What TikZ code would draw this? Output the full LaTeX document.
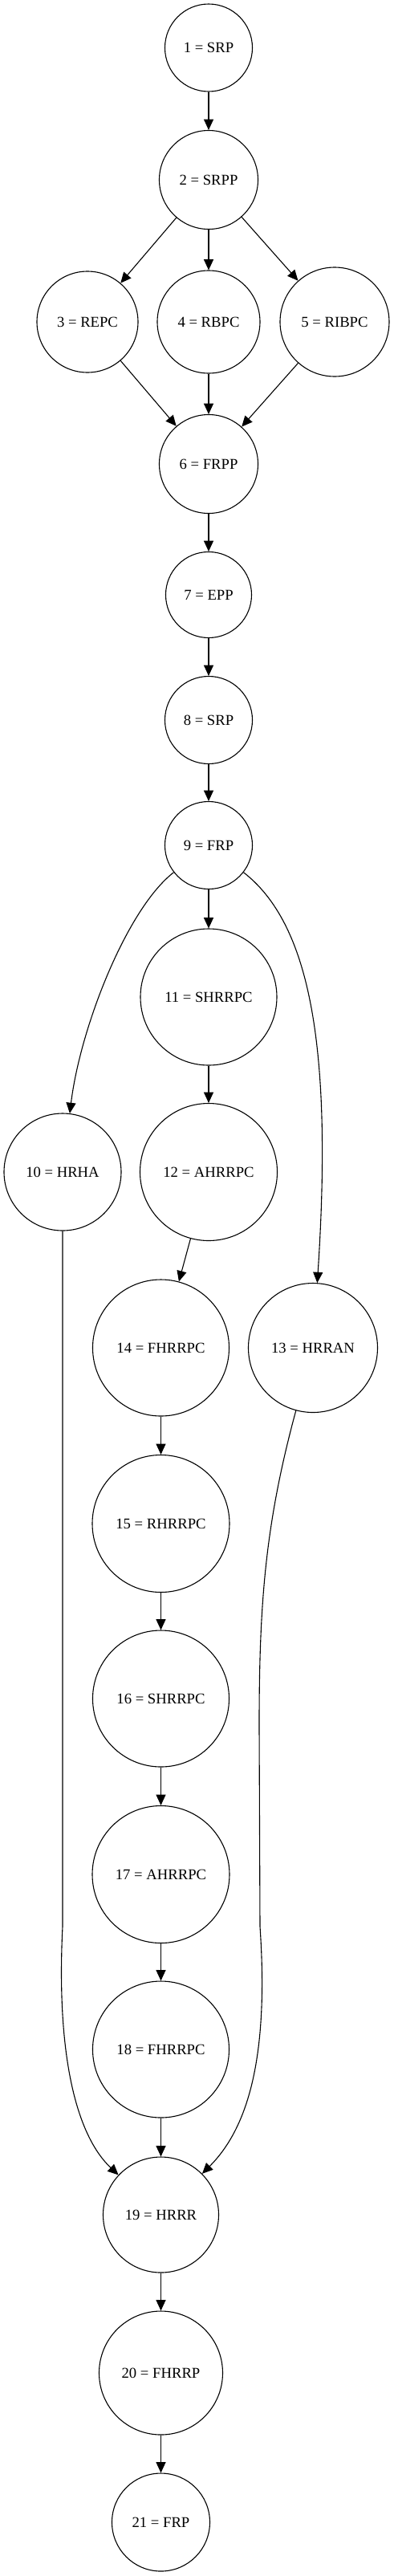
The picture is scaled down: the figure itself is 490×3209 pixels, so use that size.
\documentclass[tikz,border=0pt]{standalone}
\usepackage{fontspec}
\setmainfont{Liberation Serif}
\usepackage{tikz}
\usetikzlibrary{arrows.meta}
\tikzset{
  state/.style={draw, circle, inner sep=0pt, line width=1.1pt,
    font=\fontsize{18.67}{22}\selectfont},
  edge/.style={line width=1.1pt, -{Triangle[length=13.3pt,width=12pt]}}
}

\begin{document}
\begin{tikzpicture}[x=1pt, y=-1pt]
		%%%%% START %%%%%
		\useasboundingbox (0,0) rectangle (490,3209);
		
		\node[state, minimum size=109pt] (n1) at (260, 59.5) {1 = SRP};
		\node[state, minimum size=123pt] (n2) at (260, 224) {2 = SRPP};
		
		\node[state, minimum size=126pt] (n3) at (109, 401) {3 = REPC};
		\node[state, minimum size=128pt] (n4) at (260, 401) {4 = RBPC};
		\node[state, minimum size=136pt] (n5) at (417, 401) {5 = RIBPC};
		
		\node[state, minimum size=123pt] (n6) at (260, 578) {6 = FRPP};
		\node[state, minimum size=107pt] (n7) at (260, 741) {7 = EPP};
		\node[state, minimum size=109pt] (n8) at (260, 897) {8 = SRP};
		\node[state, minimum size=109pt] (n9) at (260, 1053) {9 = FRP};
		
		\node[state, minimum size=170pt] (n11) at (260, 1242) {11 = SHRRPC};
		\node[state, minimum size=146pt] (n10) at (78, 1460) {10 = HRHA};
		\node[state, minimum size=171pt] (n12) at (260, 1460) {12 = AHRRPC};
		\node[state, minimum size=170pt] (n14) at (200.5, 1679) {14 = FHRRPC};
		\node[state, minimum size=161pt] (n13) at (390, 1679) {13 = HRRAN};
		
		\node[state, minimum size=171pt] (n15) at (200.5, 1898) {15 = RHRRPC};
		\node[state, minimum size=170pt] (n16) at (200.5, 2116) {16 = SHRRPC};
		\node[state, minimum size=171pt] (n17) at (200.5, 2335) {17 = AHRRPC};
		\node[state, minimum size=170pt] (n18) at (200.5, 2553) {18 = FHRRPC};
		
		\node[state, minimum size=144pt] (n19) at (200.5, 2759) {19 = HRRR};
		\node[state, minimum size=154pt] (n20) at (200.5, 2956) {20 = FHRRP};
		\node[state, minimum size=122pt] (n21) at (200.5, 3142) {21 = FRP};
		
		% straight edges
		\foreach \a/\b in {1/2, 2/3, 2/4, 2/5, 3/6, 4/6, 5/6, 6/7, 7/8, 8/9,
		  9/11, 11/12, 12/14, 14/15, 15/16, 16/17, 17/18, 18/19, 19/20, 20/21}
		  \draw[edge] (n\a) -- (n\b);
		
		% bent edges
		\draw[edge] (n9) .. controls (158, 1132) and (100, 1280) .. (n10);
		\draw[edge] (n9) .. controls (385, 1150) and (415, 1300) .. (n13);
		\draw[edge] (n10) -- (78, 2400) .. controls (70, 2560) and (95, 2660) .. (n19);
		\draw[edge] (n13) .. controls (330, 1900) and (323, 2000) .. (323, 2150)
		  -- (324, 2400) .. controls (335, 2560) and (310, 2650) .. (n19);
		
		%%%%% END %%%%%
	\end{tikzpicture}
\end{document}
